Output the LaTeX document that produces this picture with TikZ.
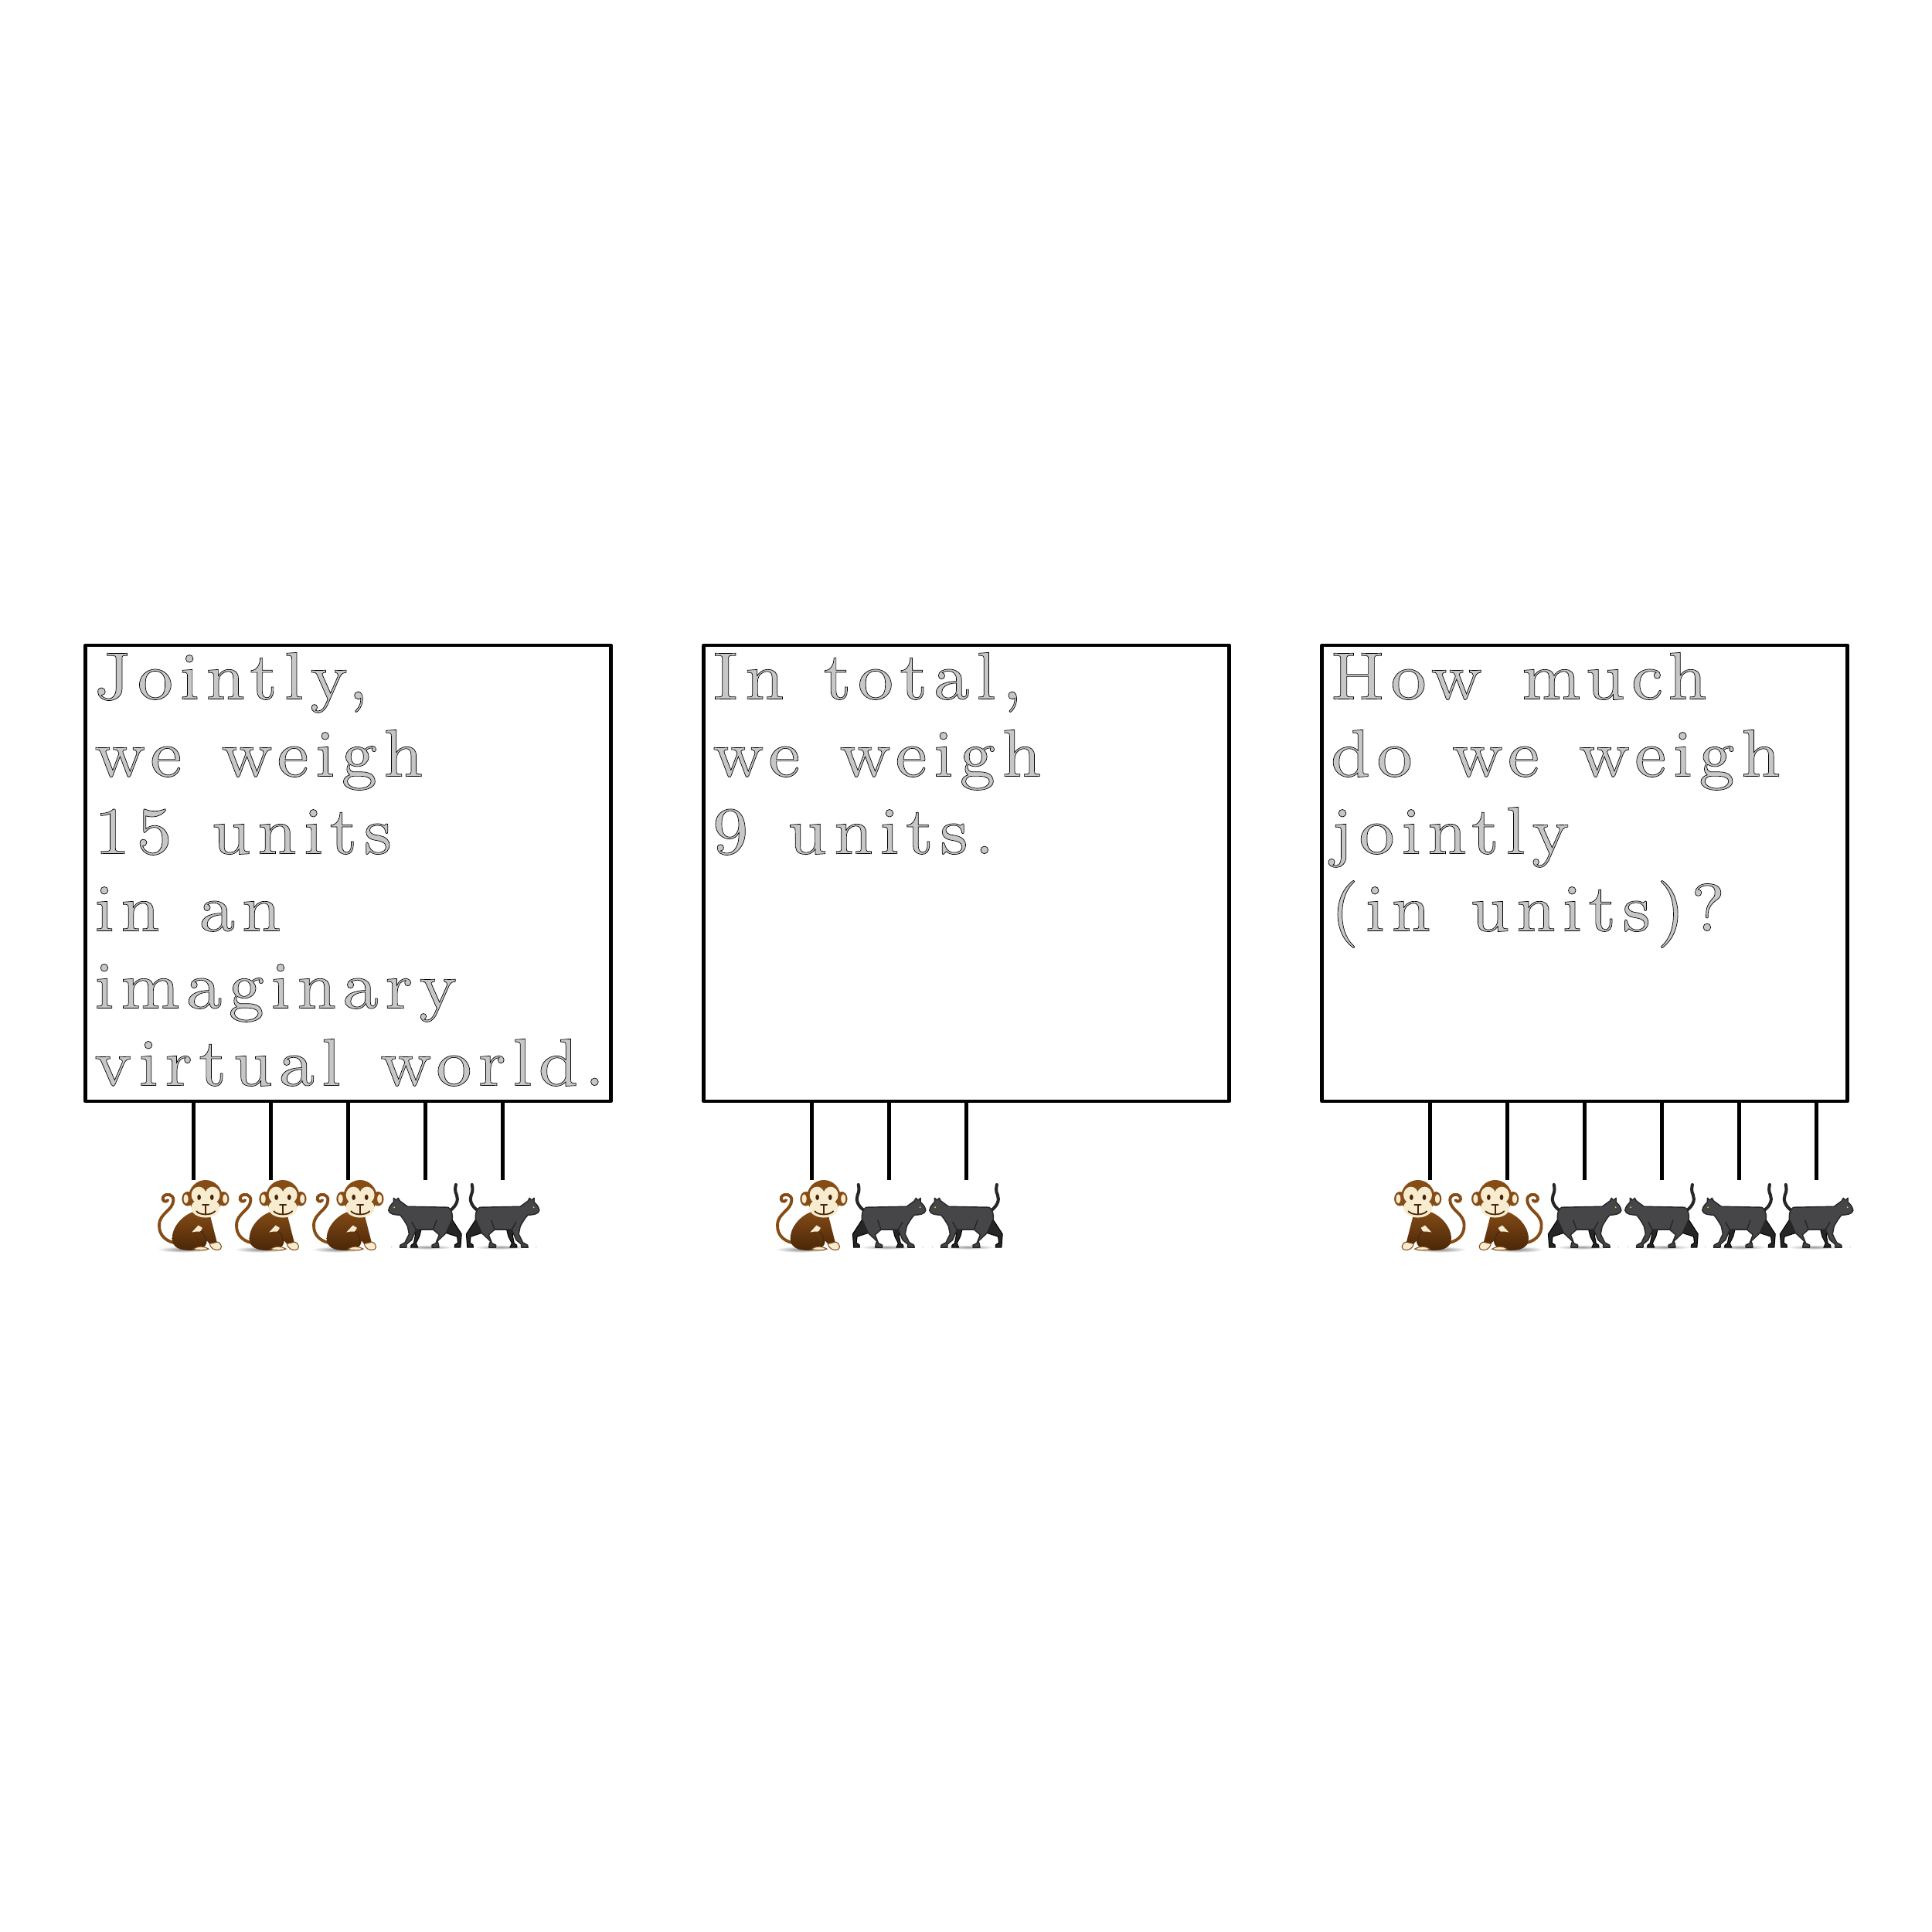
\documentclass[tikz,border=0pt]{standalone}
\usepackage{fontspec}
\newfontfamily\inlinefont{lmroman8-regular}[Extension=.otf,LetterSpace=9.5,WordSpace=1.3,FakeBold=.8]
\usepackage{tikz}
\usetikzlibrary{calc}
\definecolor{monkeybrown}{RGB}{133,76,22}
\definecolor{monkeydark}{RGB}{74,38,8}
\definecolor{monkeyface}{RGB}{248,236,208}
\definecolor{catgray}{RGB}{70,70,72}
\definecolor{catdark}{RGB}{38,38,38}
\tikzset{
 boxline/.style={draw=black, line width=1.33pt, line join=round, minimum width=6.8cm, minimum height=5.9cm, inner sep=0},
 boxtext/.style={anchor=north west, inner sep=0, align=left, xshift=.13cm, yshift=-.11cm,
   font=\inlinefont\fontsize{24.75}{28.45}\selectfont,
   execute at begin node={\special{pdf:bcolor [0.78] [0]}}, execute at end node={\special{pdf:ecolor}}},
 tieline/.style={black, line width=1.33pt},
 monkeypic/.pic={
  \begin{scope}[x=.00333cm, y=-.00333cm, shift={(-151,-382)}]
  \shade[inner color=black!45, outer color=white] (110,652) ellipse (100 and 12);
  % tail
  \draw[monkeybrown, line width=1.1pt, line cap=round] (90,628) .. controls (50,625) and (15,600) .. (18,555) .. controls (20,510) and (72,500) .. (73,460) .. controls (74,438) and (45,430) .. (33,448) .. controls (27,462) and (42,472) .. (52,460);
  % body
  \shade[top color=monkeybrown, bottom color=monkeydark] (170,500) .. controls (115,510) and (68,560) .. (68,610) .. controls (68,645) and (100,656) .. (140,656) .. controls (170,656) and (205,645) .. (203,618) -- (216,632) -- (244,630) -- (216,520) -- cycle;
  \fill[monkeyface] (145,585) -- (170,558) -- (186,568) -- (178,582) .. controls (165,582) and (155,582) .. (145,585) -- cycle;
  \draw[monkeydark, line width=.3pt] (178,582) .. controls (200,590) and (200,620) .. (195,635);
  % hand and foot
  \filldraw[fill=monkeyface, draw=monkeybrown, line width=.3pt] (214,630) -- (245,623) .. controls (264,632) and (266,652) .. (245,654) .. controls (235,654) and (220,652) .. (214,630) -- cycle;
  \filldraw[fill=monkeyface, draw=monkeybrown, line width=.3pt] (150,651) .. controls (170,636) and (195,640) .. (210,650) .. controls (195,657) and (170,657) .. (150,651) -- cycle;
  % head
  \fill[monkeybrown] (128,455) ellipse (22 and 28);
  \fill[monkeybrown] (268,455) ellipse (22 and 28);
  \fill[monkeyface] (122,455) ellipse (9 and 18);
  \fill[monkeyface] (274,455) ellipse (9 and 18);
  \fill[monkeybrown] (198,450) ellipse (66 and 68);
  \fill[monkeyface] (172,440) ellipse (29 and 32);
  \fill[monkeyface] (225,440) ellipse (29 and 32);
  \fill[monkeyface] (198,490) ellipse (56 and 38);
  \fill[monkeydark] (173,449) ellipse (7 and 11);
  \fill[monkeydark] (223,449) ellipse (7 and 11);
  \draw[monkeydark, line width=.5pt, line cap=round] (186,479) -- (211,479) (198,479) -- (198,513);
  \draw[monkeydark, line width=.5pt, line cap=round] (163,503) .. controls (175,520) and (222,520) .. (235,503);
  \end{scope}
 },
 monkeyright/.pic={\pic[xscale=-1] {monkeypic};},
 catleft/.pic={
  \begin{scope}[x=.00333cm, y=-.00333cm, shift={(-181,-52)}]
  \shade[inner color=black!40, outer color=white] (190,313) ellipse (105 and 9);
  \fill[black!35] (50,313) circle (2);
  % tail
  \draw[catdark, line width=1.15pt, line cap=round] (278,170) .. controls (300,155) and (312,130) .. (303,110) .. controls (295,95) and (298,80) .. (300,70);
  % far legs
  \filldraw[fill=catdark, draw=black, line width=.3pt] (285,205) -- (322,262) -- (318,314) -- (295,314) -- (296,304) -- (308,296) -- (305,272) -- (262,258) -- cycle;
  \filldraw[fill=catdark, draw=black, line width=.3pt] (165,245) -- (158,272) -- (145,298) -- (152,314) -- (125,314) -- (126,305) -- (136,298) -- (142,268) -- (140,245) -- cycle;
  % body
  \filldraw[fill=catgray, draw=catdark, line width=.4pt, line join=round] (38,170) .. controls (40,155) and (50,145) .. (58,138) -- (58,122) -- (68,130) -- (76,122) -- (82,133) -- (112,155) -- (270,158) .. controls (285,165) and (288,190) .. (286,205) -- (270,240) -- (262,258) -- (228,290) -- (232,300) -- (234,314) -- (207,314) -- (207,305) -- (222,298) -- (235,265) -- (212,245) -- (145,245) -- (128,285) -- (108,302) -- (108,314) -- (82,314) -- (84,305) -- (102,295) -- (118,262) -- (112,232) .. controls (100,210) and (90,195) .. (82,188) .. controls (65,188) and (40,185) .. (38,170) -- cycle;
  \draw[catdark, line width=.4pt] (128,215) -- (145,245) (225,207) -- (212,245);
  \fill[yellow!65!brown] (60,158) circle (3);
  \end{scope}
 },
 catright/.pic={\pic[xscale=-1] {catleft};},
}
\newcommand{\hangup}[3]{%
 \foreach \x [count=\n] in {#3} {
  \coordinate (#1#2\n) at (\x,9.73);
  \draw[tieline] (#1.south -| #1#2\n) -- (#1#2\n);
  \pic at (#1#2\n) {#2};
 }}
\begin{document}
\begin{tikzpicture}
\useasboundingbox (0,0) rectangle (25,25);
\node[boxline] (jointbox) at (4.507,13.70) {};
\node[boxline] (totalbox) at (12.507,13.70) {};
\node[boxline] (muchbox) at (20.507,13.70) {};

\node[boxtext] (jointtext) at (jointbox.north west) {Jointly,\\we weigh\\15 units\\in an\\imaginary\\virtual world.};
\node[boxtext] (totaltext) at (totalbox.north west) {In total,\\we weigh\\9 units.};
\node[boxtext] (muchtext) at (muchbox.north west) {How much\\do we weigh\\jointly\\(in units)?};

\hangup{jointbox}{monkeypic}{2.503,3.503,4.503}
\hangup{jointbox}{catleft}{5.503}
\hangup{jointbox}{catright}{6.503}
\hangup{totalbox}{monkeypic}{10.503}
\hangup{totalbox}{catright}{11.503}
\hangup{totalbox}{catleft}{12.503}
\hangup{muchbox}{monkeyright}{18.503,19.503}
\hangup{muchbox}{catright}{20.503}
\hangup{muchbox}{catleft}{21.503,22.503}
\hangup{muchbox}{catright}{23.503}
\end{tikzpicture}
\end{document}
